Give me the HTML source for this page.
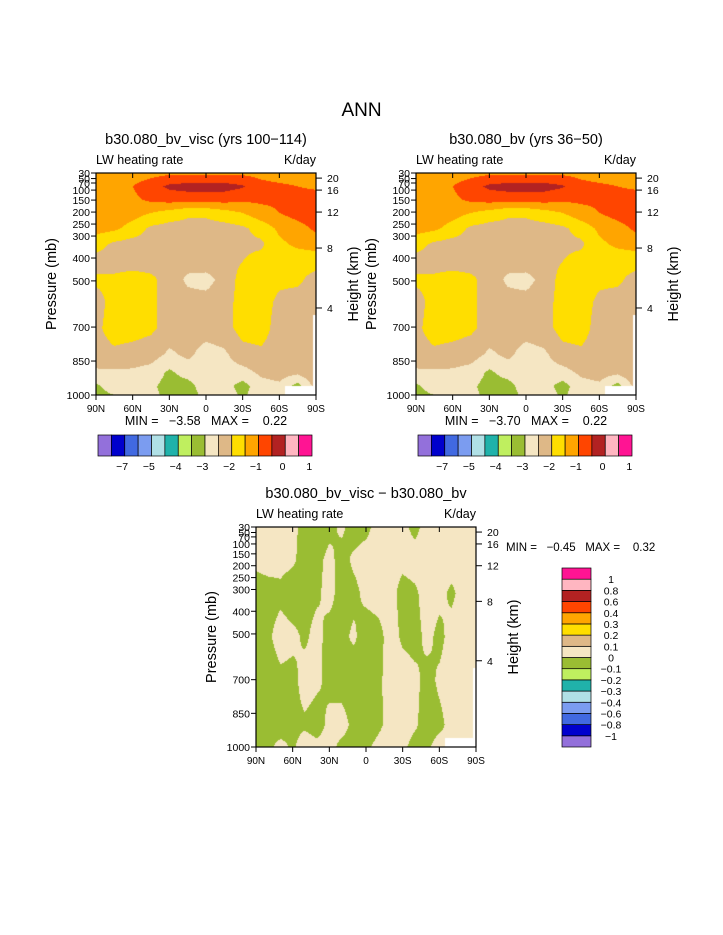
<!DOCTYPE html>
<html><head><meta charset="utf-8">
<style>
body{margin:0;background:#fff;width:723px;height:935px;position:relative;overflow:hidden;font-family:"Liberation Sans",sans-serif;color:#000}
.t{position:absolute;white-space:nowrap;line-height:1}
canvas{position:absolute}
svg{position:absolute;left:0;top:0}
</style></head><body>
<div class="t" style="left:0;width:723px;text-align:center;top:101px;font-size:19px">ANN</div>
<svg id="ax" width="723" height="935"></svg>
<script>
// ---------- data ----------
const latLabels=["90N","60N","30N","0","30S","60S","90S"];
const presTicks=[30,50,70,100,150,200,250,300,400,500,700,850,1000];
const presFrac=[1,0.975,0.955,0.923,0.878,0.824,0.77,0.716,0.617,0.514,0.306,0.153,0];
const htTicks=[4,8,12,16,20];
const htFrac=[0.392,0.662,0.824,0.923,0.977];
const topLevels=[-8,-7,-6,-5,-4.5,-4,-3.5,-3,-2.5,-2,-1.5,-1,-0.5,0,0.5];
const topBarLabels=["-7","-5","-4","-3","-2","-1","0","1"];
const diffLevels=[-1,-0.8,-0.6,-0.4,-0.3,-0.2,-0.1,0,0.1,0.2,0.3,0.4,0.6,0.8,1];
const diffBarLabels=["1","0.8","0.6","0.4","0.3","0.2","0.1","0","-0.1","-0.2","-0.3","-0.4","-0.6","-0.8","-1"];
const colors=["#9370db","#0000cd","#4169e1","#7b9cf0","#b0e0e6","#20b2aa","#bfef5f","#9abd33","#f5e6c3","#deb887","#ffde00","#ffa500","#ff4500","#b22222","#ffb6c1","#ff1493"];
const topRows=[0,0.04,0.1,0.18,0.3,0.42,0.52,0.6,0.68,0.75,0.82,0.88,0.94,1];
const visc=[
[-3.2,-3.0,-2.8,-2.9,-3.1,-3.3,-2.8,-2.7,-3.1,-2.7,-2.8,-3.0,-2.6],
[-3.1,-2.7,-2.8,-2.9,-3.2,-3.2,-2.7,-2.8,-3.2,-2.7,-2.6,-3.2,-2.3],
[-2.6,-2.6,-2.6,-2.7,-3.1,-2.8,-2.6,-2.7,-2.7,-2.4,-2.3,-2.4,-2.1],
[-2.2,-2.1,-2.2,-2.3,-2.6,-2.4,-2.7,-2.6,-2.2,-2.1,-2.2,-2.2,-2.1],
[-2.1,-1.8,-1.8,-1.9,-2.2,-2.3,-2.3,-2.2,-1.8,-1.8,-2.2,-2.2,-2.2],
[-2.2,-1.8,-1.8,-1.9,-2.2,-2.3,-2.3,-2.2,-1.8,-1.8,-2.1,-2.2,-2.2],
[-1.9,-1.9,-1.8,-1.9,-2.2,-2.6,-2.7,-2.3,-1.8,-1.8,-1.9,-1.9,-2.2],
[-2.2,-2.2,-2.2,-2.2,-2.2,-2.3,-2.2,-2.2,-2.0,-1.8,-1.8,-1.8,-1.8],
[-1.8,-2.1,-2.2,-2.2,-2.2,-2.2,-2.2,-2.2,-2.1,-2.1,-1.6,-1.4,-1.3],
[-1.3,-1.4,-1.7,-2.1,-2.2,-2.2,-2.2,-2.2,-2.1,-1.8,-1.4,-1.2,-0.9],
[-1.2,-1.2,-1.3,-1.5,-1.7,-1.9,-1.9,-1.7,-1.5,-1.2,-1.0,-0.8,-0.7],
[-1.2,-1.2,-1.1,-0.9,-0.8,-0.8,-0.8,-0.8,-0.9,-0.9,-0.9,-0.8,-0.7],
[-1.2,-1.2,-1.0,-0.7,-0.4,-0.3,-0.3,-0.3,-0.45,-0.8,-0.9,-1.0,-1.1],
[-1.3,-1.3,-1.3,-1.2,-1.1,-1.1,-1.1,-1.1,-1.1,-1.2,-1.3,-1.3,-1.3]];
const bv=[
[-3.2,-3.0,-2.8,-2.9,-3.1,-3.3,-2.8,-2.7,-3.1,-2.7,-2.8,-3.0,-2.6],
[-3.1,-2.7,-2.8,-2.9,-3.2,-3.2,-2.7,-2.8,-3.2,-2.7,-2.6,-3.2,-2.3],
[-2.6,-2.6,-2.6,-2.7,-3.1,-2.8,-2.6,-2.7,-2.7,-2.4,-2.3,-2.4,-2.1],
[-2.2,-2.1,-2.2,-2.3,-2.6,-2.4,-2.7,-2.6,-2.2,-2.1,-2.2,-2.2,-2.1],
[-2.1,-1.8,-1.8,-1.9,-2.2,-2.3,-2.3,-2.2,-1.8,-1.8,-2.2,-2.2,-2.2],
[-2.2,-1.8,-1.8,-1.9,-2.2,-2.3,-2.3,-2.2,-1.8,-1.8,-2.1,-2.2,-2.2],
[-1.9,-1.9,-1.8,-1.9,-2.2,-2.6,-2.7,-2.3,-1.8,-1.8,-1.9,-1.9,-2.2],
[-2.2,-2.2,-2.2,-2.2,-2.2,-2.3,-2.2,-2.2,-2.0,-1.8,-1.8,-1.8,-1.8],
[-1.8,-2.1,-2.2,-2.2,-2.2,-2.2,-2.2,-2.2,-2.1,-2.1,-1.6,-1.4,-1.3],
[-1.3,-1.4,-1.7,-2.1,-2.2,-2.2,-2.2,-2.2,-2.1,-1.8,-1.4,-1.2,-0.9],
[-1.2,-1.2,-1.3,-1.5,-1.7,-1.9,-1.9,-1.7,-1.5,-1.2,-1.0,-0.8,-0.7],
[-1.2,-1.2,-1.1,-0.9,-0.8,-0.8,-0.8,-0.8,-0.9,-0.9,-0.9,-0.8,-0.7],
[-1.2,-1.2,-1.0,-0.7,-0.4,-0.3,-0.3,-0.3,-0.45,-0.8,-0.9,-1.0,-1.1],
[-1.3,-1.3,-1.3,-1.2,-1.1,-1.1,-1.1,-1.1,-1.1,-1.2,-1.3,-1.3,-1.3]];
const diffRows=[0,0.1,0.3,0.5,0.7,0.85,1];
const diff=[
[-0.08,-0.03,0.04,-0.02,0.06,0.03,0.05,-0.04,-0.07,-0.03,0.04,0.06,0.03,-0.05,-0.02,0.05,0.03,0.06,0.04],
[-0.06,-0.04,-0.07,-0.03,-0.02,-0.05,0.03,0.06,-0.04,-0.08,-0.03,0.05,0.07,0.02,-0.06,-0.03,0.04,0.05,0.03],
[-0.05,-0.07,-0.03,-0.04,0.05,0.02,-0.03,-0.06,-0.08,-0.05,-0.02,0.04,0.06,0.03,-0.04,0.02,0.05,0.04,0.06],
[-0.04,-0.02,0.05,0.03,-0.02,0.04,-0.05,-0.03,0.02,-0.06,-0.04,0.05,-0.02,-0.04,0.03,-0.03,0.04,0.06,0.05],
[-0.06,-0.05,-0.03,-0.07,-0.04,-0.02,0.04,-0.05,-0.03,0.03,0.05,0.04,-0.04,-0.02,0.05,0.03,-0.02,0.04,0.06],
[0.03,0.05,0.04,0.02,-0.05,-0.03,0.03,-0.04,0.02,0.05,0.06,0.04,0.03,0.05,0.04,0.06,0.05,0.04,0.05],
[0.05,0.04,0.06,0.03,-0.04,-0.06,-0.03,0.02,-0.05,-0.03,0.04,0.05,0.03,-0.03,0.04,0.05,0.06,0.04,0.05]];

// ---------- rendering ----------
const NS="http://www.w3.org/2000/svg";
const svg=document.getElementById('ax');
function hex(c){return [parseInt(c.substr(1,2),16),parseInt(c.substr(3,2),16),parseInt(c.substr(5,2),16)];}
function colIdx(v,lev){let i=0;while(i<lev.length&&v>=lev[i])i++;return i;}
function interp(grid,rows,fx,fy){
  const nc=grid[0].length;const cx=fx*(nc-1);let c0=Math.min(Math.floor(cx),nc-2);const tx=cx-c0;
  let r0=0;while(r0<rows.length-2&&fy>rows[r0+1])r0++;
  const ty=Math.max(0,Math.min(1,(fy-rows[r0])/(rows[r0+1]-rows[r0])));
  const a=grid[r0][c0]*(1-tx)+grid[r0][c0+1]*tx, b=grid[r0+1][c0]*(1-tx)+grid[r0+1][c0+1]*tx;
  return a*(1-ty)+b*ty;
}
function txt(x,y,s,size,anchor,name,rot){
  const t=document.createElementNS(NS,'text');
  t.setAttribute('x',x);t.setAttribute('y',y);t.setAttribute('font-size',size);
  t.setAttribute('font-family','"Liberation Sans",sans-serif');
  t.setAttribute('text-anchor',anchor||'start');
  if(rot)t.setAttribute('transform','rotate(-90 '+x+' '+y+')');
  t.textContent=s;
  
  
  svg.appendChild(t);return t;
}
function line(x1,y1,x2,y2,name){
  const l=document.createElementNS(NS,'line');
  l.setAttribute('x1',x1);l.setAttribute('y1',y1);l.setAttribute('x2',x2);l.setAttribute('y2',y2);
  l.setAttribute('stroke','#000');l.setAttribute('stroke-width','1');
  
  
  svg.appendChild(l);
}
function panel(X,Y,W,H,grid,rows,lev,title,minmax,name,mask){
  const cv=document.createElement('canvas');cv.width=W;cv.height=H;
  cv.style.left=X+'px';cv.style.top=Y+'px';
  
  
  document.body.insertBefore(cv,svg);
  const ctx=cv.getContext('2d');const img=ctx.createImageData(W,H);
  const rgb=colors.map(hex);
  for(let j=0;j<H;j++){const fy=1-(j+0.5)/H;for(let i=0;i<W;i++){const fx=(i+0.5)/W;
    let c=rgb[colIdx(interp(grid,rows,fx,fy),lev)];
    if(mask&&((fx>0.86&&fy<0.04)||(fx>0.985&&fy<0.36)))c=[255,255,255];
    const k=(j*W+i)*4;img.data[k]=c[0];img.data[k+1]=c[1];img.data[k+2]=c[2];img.data[k+3]=255;}}
  ctx.putImageData(img,0,0);
  const r=document.createElementNS(NS,'rect');r.setAttribute('x',X);r.setAttribute('y',Y);r.setAttribute('width',W);r.setAttribute('height',H);
  r.setAttribute('fill','none');r.setAttribute('stroke','#000');r.setAttribute('stroke-width','1.2');
  
  
  svg.appendChild(r);
  txt(X+W/2,Y-29,title,14.5,'middle',name+'-title');
  txt(X,Y-9,'LW heating rate',12.5,'start',name+'-left-subtitle');
  txt(X+W,Y-9,'K/day',12.5,'end',name+'-right-subtitle');
  presTicks.forEach((p,i)=>{const y=Y+H-presFrac[i]*H;line(X-5,y,X,y,'pressure-tick');
    txt(X-6,y+4,String(p),10.5,'end','pressure-tick-label');});
  htTicks.forEach((h,i)=>{const y=Y+H-htFrac[i]*H;line(X+W,y,X+W+6,y,'height-tick');
    txt(X+W+11,y+4,String(h),10.5,'start','height-tick-label');});
  latLabels.forEach((l,i)=>{const x=X+i*W/6;line(x,Y+H,x,Y+H+5,'lat-tick');line(x,Y,x,Y+5,'lat-tick-top');
    txt(x,Y+H+17,l,10,'middle','lat-tick-label');});
  txt(X-40,Y+H/2,'Pressure (mb)',14.5,'middle',name+'-y-axis-title',true);
  txt(X+W+42,Y+H/2,'Height (km)',14.5,'middle',name+'-right-axis-title',true);
  if(minmax)txt(X+W/2,Y+H+30,minmax,12.5,'middle',name+'-min-max');
}
function hbar(X,Y,W,H,name){
  const bw=W/colors.length;
  colors.forEach((c,i)=>{const r=document.createElementNS(NS,'rect');r.setAttribute('x',X+i*bw);r.setAttribute('y',Y);
    r.setAttribute('width',bw);r.setAttribute('height',H);r.setAttribute('fill',c);r.setAttribute('stroke','#000');r.setAttribute('stroke-width','0.7');
    
    
    svg.appendChild(r);});
  topBarLabels.forEach((l,i)=>{txt(X+(2*i+2)*bw-bw*0.2,Y+H+14,l.replace('-','\u2212'),10.5,'middle',name+'-label');});
}
function vbar(X,Y,W,H){
  const bh=H/colors.length;
  colors.forEach((c,i)=>{const r=document.createElementNS(NS,'rect');r.setAttribute('x',X);r.setAttribute('y',Y+H-(i+1)*bh);
    r.setAttribute('width',W);r.setAttribute('height',bh);r.setAttribute('fill',c);r.setAttribute('stroke','#000');r.setAttribute('stroke-width','0.7');
    
    
    svg.appendChild(r);});
  diffBarLabels.forEach((l,i)=>{txt(X+W+20,Y+(i+1)*bh+4,l.replace('-','\u2212'),10.5,'middle','diff-colorbar-label');});
}
panel(96,173,220,222,visc,topRows,topLevels,'b30.080_bv_visc (yrs 100\u2212114)','MIN =   \u22123.58   MAX =    0.22','visc-panel',true);
panel(416,173,220,222,bv,topRows,topLevels,'b30.080_bv (yrs 36\u221250)','MIN =   \u22123.70   MAX =    0.22','bv-panel',true);
panel(256,527,220,220,diff,diffRows,diffLevels,'b30.080_bv_visc \u2212 b30.080_bv',null,'diff-panel',true);
txt(506,551,'MIN =   \u22120.45   MAX =    0.32',11.5,'start','diff-min-max');
hbar(98,435,214,21,'visc-colorbar');
hbar(418,435,214,21,'bv-colorbar');
vbar(562,568,29,179);
svg.querySelectorAll('text').forEach(t=>t.setAttribute('style','white-space:pre'));
</script>
</body></html>
